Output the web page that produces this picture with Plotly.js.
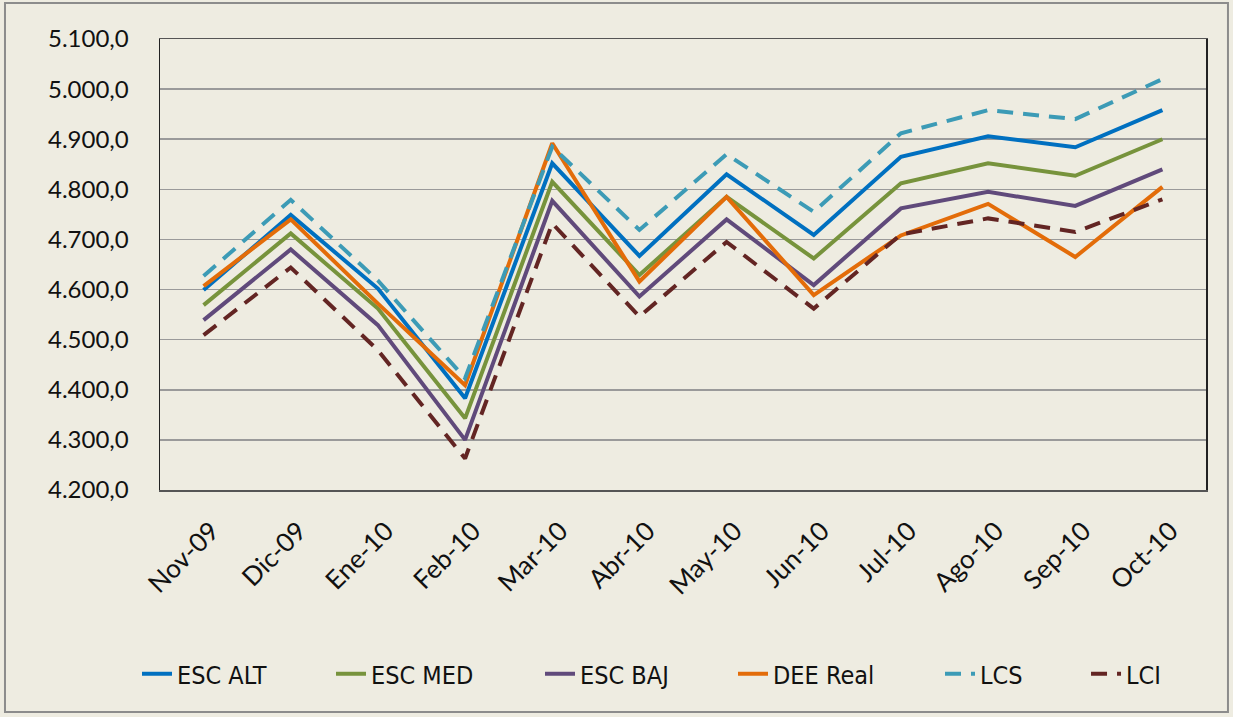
<!DOCTYPE html>
<html>
<head>
<meta charset="utf-8">
<script src="https://cdn.plot.ly/plotly-3.0.1.min.js"></script>
<style>
  html, body { margin: 0; padding: 0; background: #EEECE1; }
  #chart { width: 1233px; height: 717px; }
</style>
</head>
<body>
<div id="chart"></div>
<script>
const months = ["Nov-09","Dic-09","Ene-10","Feb-10","Mar-10","Abr-10","May-10","Jun-10","Jul-10","Ago-10","Sep-10","Oct-10"];
const escAlt  = [4599, 4749, 4602, 4383, 4852, 4667, 4830, 4709, 4865, 4906, 4884, 4958];
const escMed  = [4569, 4712, 4562, 4343, 4815, 4629, 4785, 4662, 4812, 4852, 4827, 4900];
const escBaj  = [4539, 4680, 4529, 4300, 4777, 4586, 4740, 4609, 4762, 4795, 4767, 4840];
const deeReal = [4607, 4740, 4572, 4409, 4892, 4616, 4785, 4589, 4708, 4771, 4665, 4805];
const lcs     = [4627, 4779, 4618, 4423, 4885, 4719, 4870, 4755, 4912, 4958, 4940, 5020];
const lci     = [4509, 4644, 4479, 4263, 4732, 4546, 4695, 4562, 4710, 4742, 4715, 4780];

const seriesNames = ["ESC ALT", "ESC MED", "ESC BAJ", "DEE Real", "LCS", "LCI"];
const seriesData = [escAlt, escMed, escBaj, deeReal, lcs, lci];
const seriesColors = ["#0070C0", "#77933C", "#604A7B", "#E36C09", "#3C9BB6", "#632523"];
const seriesDash = ["solid", "solid", "solid", "solid", "16px,10px", "16px,10px"];

const legendIds = ["legend", "legend2", "legend3", "legend4", "legend5", "legend6"];
const legendX = [-0.022, 0.1635, 0.3633, 0.5478, 0.7457, 0.8853];

const traces = seriesNames.map((n, i) => ({
  type: "scatter",
  mode: "lines",
  name: n,
  x: months,
  y: seriesData[i],
  legend: legendIds[i],
  line: {color: seriesColors[i], width: 4, dash: seriesDash[i]}
}));

const fontFam = "Lato, 'Open Sans', sans-serif";
const legFont = "'Liberation Sans Narrow', 'DejaVu Sans Condensed', Lato, sans-serif";

const layout = {
  width: 1233,
  height: 717,
  margin: {l: 160, r: 27, t: 39, b: 227},
  paper_bgcolor: "#EEECE1",
  plot_bgcolor: "#EEECE1",
  separators: ",.",
  font: {family: fontFam, size: 22, color: "#111"},
  showlegend: true,
  xaxis: {
    type: "category",
    tickangle: -45,
    showgrid: false,
    showline: true,
    linecolor: "#555",
    linewidth: 1.5,
    mirror: true,
    ticks: "",
    ticklabelstandoff: 14,
    ticklabelshift: 8,
    tickfont: {family: fontFam, size: 26, color: "#111"},
    range: [-0.5, 11.5],
    fixedrange: true
  },
  yaxis: {
    range: [4200, 5100],
    dtick: 100,
    tick0: 4200,
    tickformat: ",.1f",
    showgrid: true,
    gridcolor: "#9A9A9A",
    gridwidth: 1.5,
    showline: true,
    linecolor: "#222",
    linewidth: 1.5,
    mirror: true,
    ticks: "",
    ticklabelstandoff: 25,
    zeroline: false,
    tickfont: {family: fontFam, size: 24, color: "#111"},
    fixedrange: true
  },
  shapes: [{
    type: "rect",
    xref: "paper", yref: "paper",
    x0: -0.1482, x1: 1.0210, y0: -0.4922, y1: 1.0798,
    line: {color: "#8C8C8C", width: 2},
    fillcolor: "rgba(0,0,0,0)",
    layer: "below"
  }]
};

legendIds.forEach((id, i) => {
  layout[id] = {
    orientation: "h",
    x: legendX[i], xanchor: "left",
    y: -0.408, yanchor: "middle",
    font: {family: legFont, size: 25, color: "#111"},
    bgcolor: "rgba(0,0,0,0)",
    borderwidth: 0
  };
});

Plotly.newPlot("chart", traces, layout, {displayModeBar: false, staticPlot: true});
</script>
</body>
</html>
